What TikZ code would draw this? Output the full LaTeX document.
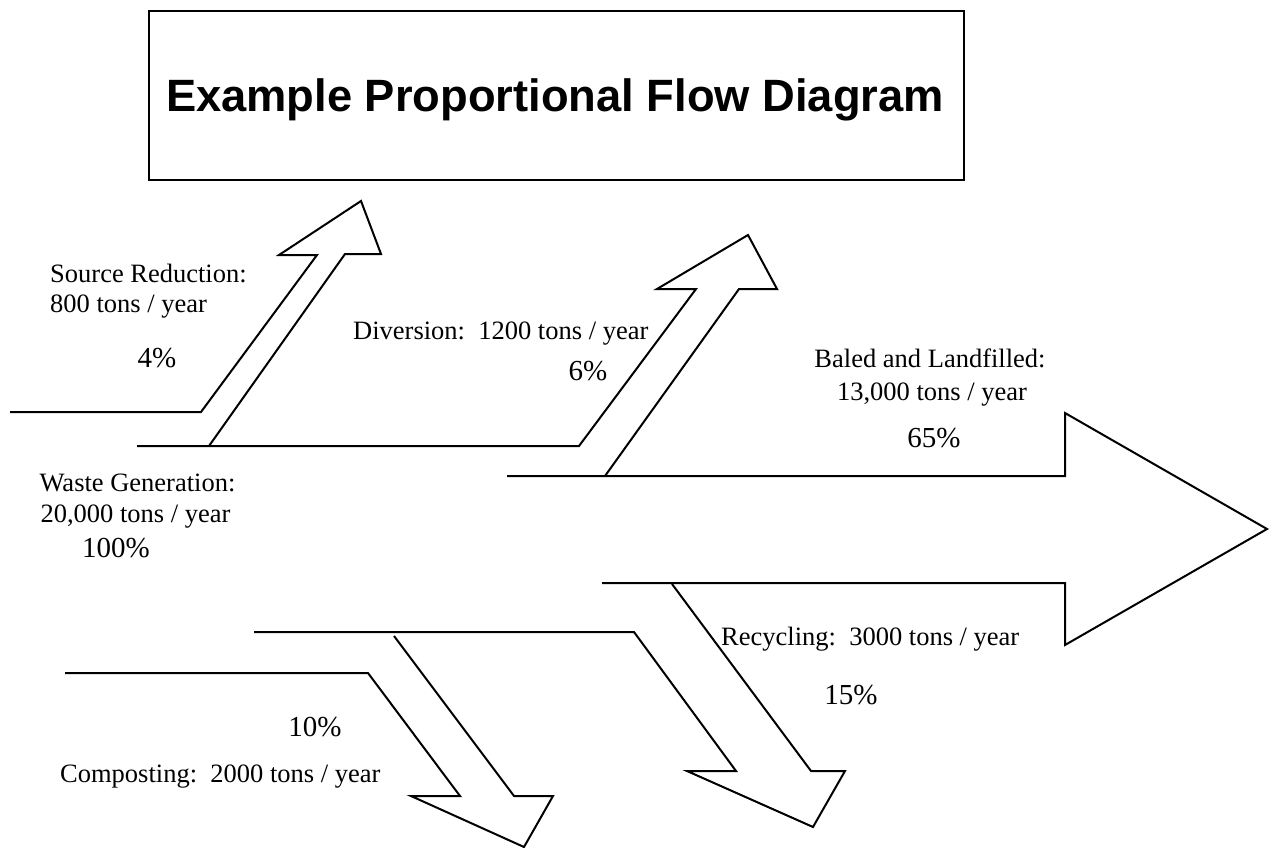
\documentclass[tikz,border=0pt]{standalone}
\usepackage{fontspec}
\setmainfont{Liberation Serif}
\newfontfamily\titlefont{Liberation Sans}
\begin{document}
\begin{tikzpicture}[x=1pt,y=-1pt,
  flow/.style={draw=black,line width=2pt,line join=miter},
  lbl/.style={inner sep=0pt,font=\fontsize{26.5}{30}\selectfont},
  pct/.style={inner sep=0pt,font=\fontsize{29}{33}\selectfont}]
\useasboundingbox (0,0) rectangle (1274,848);
% title box
\node[draw=black,line width=2pt,minimum width=815pt,minimum height=169pt,inner sep=0pt,anchor=north west] (titlebox) at (148,10) {};
\node[inner sep=0pt,anchor=base,font=\titlefont\bfseries\fontsize{45.3}{50}\selectfont] (title) at (555,112) {Example Proportional Flow Diagram};
% source reduction
\draw[flow] (10,412) -- (201,412) -- (317,255) -- (279,255) -- (361,201) -- (381,254) -- (345,254) -- (209,446);
% diversion
\draw[flow] (137,446) -- (579,446) -- (696,289) -- (657,289) -- (748,235) -- (777,289) -- (739,289) -- (605,476);
% main arrow
\draw[flow] (507,476) -- (1065,476) -- (1065,413) -- (1267,529) -- (1065,645) -- (1065,583) -- (602,583);
% recycling
\draw[flow] (672,584) -- (811,771) -- (845,771) -- (813,827) -- (687,771) -- (736,771) -- (634,632) -- (254,632);
% composting
\draw[flow] (394,636) -- (514,796) -- (553,796) -- (524,847) -- (411,796) -- (460,796) -- (368,673) -- (65,673);
% labels
\node[lbl,anchor=base west] (sr1) at (50,282) {Source Reduction:};
\node[lbl,anchor=base west] (sr2) at (50,312) {800 tons / year};
\node[pct,anchor=base] (sr3) at (157,367) {4\%};
\node[lbl,anchor=base west] (dv1) at (353,339) {Diversion:\ \ 1200 tons / year};
\node[pct,anchor=base] (dv2) at (588,380) {6\%};
\node[lbl,anchor=base] (bl1) at (930,367) {Baled and Landfilled:};
\node[lbl,anchor=base] (bl2) at (932,400) {13,000 tons / year};
\node[pct,anchor=base] (bl3) at (934,447) {65\%};
\node[lbl,anchor=base] (wg1) at (137.5,491) {Waste Generation:};
\node[lbl,anchor=base] (wg2) at (135.5,522) {20,000 tons / year};
\node[pct,anchor=base] (wg3) at (116,557) {100\%};
\node[lbl,anchor=base west] (rc1) at (721,645) {Recycling:\ \ 3000 tons / year};
\node[pct,anchor=base] (rc2) at (851,704) {15\%};
\node[pct,anchor=base] (cp1) at (315,736) {10\%};
\node[lbl,anchor=base west] (cp2) at (60,782) {Composting:\ \ 2000 tons / year};
\end{tikzpicture}
\end{document}
